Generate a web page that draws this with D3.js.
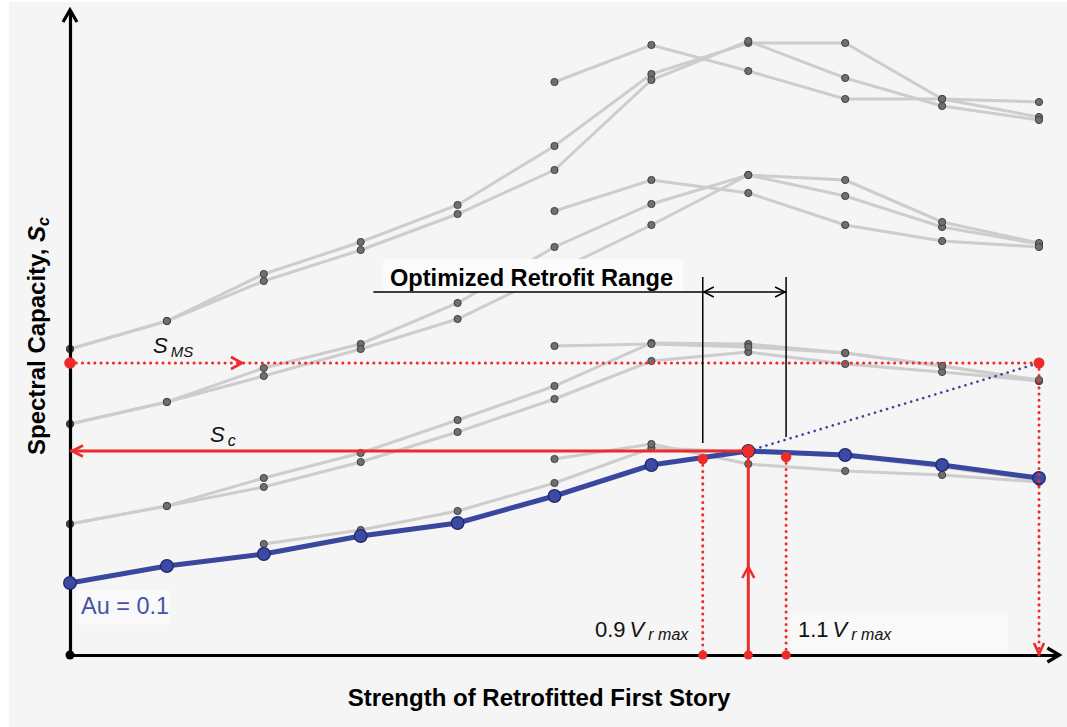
<!DOCTYPE html>
<html><head><meta charset="utf-8">
<script src="https://cdn.jsdelivr.net/npm/d3@7"></script>
<style>body{margin:0;background:#fff} svg{display:block}</style>
</head><body><svg id="c" width="1067" height="727"></svg>
<script>
// ---- data (x = column index of retrofit strength, y = spectral capacity, arbitrary units) ----
const columns = [0,1,2,3,4,5,6,7,8,9,10];
const blueSeries = [72, 89, 101, 119, 132, 159, 190, 204, 200, 190, 177];
const greyA1 = [306, 334, 381, 413, 450, 509, 581, 612, 612, 556, 538];
const greyA2 = [306, 334, 374, 405, 441, 485, 575, 614, 577, 549, 535];
const greyA3 = [null, null, null, null, null, 573, 610, 584, 556, 556, 553];
const greyB1 = [231, 253, 287, 311, 352, 408, 451, 480, 459, 428, 411];
const greyB2 = [231, 253, 279, 306, 336, 383, 430, 480, 475, 433, 412];
const greyB3 = [null, null, null, null, null, 444, 475, 462, 430, 414, 408];
const greyC1 = [131, 149, 177, 202, 235, 269, 312, 311, 302, 289, 274];
const greyC2 = [131, 149, 168, 193, 223, 256, 294, 303, 291, 283, 274];
const greyC3 = [null, null, null, null, null, 309, 311, 308, 302, 289, 275];
const greyD2 = [null, null, 111, 125, 144, 172, 207, 203, 199, 188, 175];
const greyD3 = [null, null, null, null, null, 196, 211, 191, 184, 180, 173];
const greySeries = [greyA1, greyA2, greyA3, greyB1, greyB2, greyB3, greyC1, greyC2, greyC3, greyD2, greyD3];

const smsLevel = 292;      // S_MS
const scLevel = 204;       // S_c (at Vr max)
const vrMax = 7;           // column of Vr max
const vrLow = 6.53;        // 0.9 Vr max
const vrHigh = 7.39;       // 1.1 Vr max
const vrLowCap = 196;      // capacity at 0.9 Vr max
const vrHighCap = 198;     // capacity at 1.1 Vr max
const rangeTop = 378, rangeBottomLow = 212, rangeBottomHigh = 218, rangeArrowLevel = 363;
const rangeUnderlineStart = 3.13;
const xAxisEnd = 10.19, yAxisEnd = 643;

// ---- scales ----
const x = d3.scaleLinear().domain([0, 10]).range([70, 1039]);
const y = d3.scaleLinear().domain([0, 640]).range([655, 15]);

const svg = d3.select('#c');
const FONT = "'Liberation Sans', Arial, Helvetica, sans-serif";
const RED = '#ee2b2b', BLUE = '#3a479e', GREYL = '#cdcdcd';

svg.append('rect').attr('x', 9).attr('y', 2).attr('width', 1058).attr('height', 725).attr('fill', '#f5f5f5');

// grey lines
const line = d3.line().defined(d => d[1] != null).x(d => x(d[0])).y(d => y(d[1]));
greySeries.forEach(s => {
  const pts = s.map((v, i) => [columns[i], v]);
  svg.append('path').attr('d', line(pts)).attr('fill', 'none').attr('stroke', GREYL).attr('stroke-width', 3);
});
greySeries.forEach(s => {
  s.forEach((v, i) => {
    if (v == null) return;
    svg.append('circle').attr('cx', x(columns[i])).attr('cy', y(v)).attr('r', 3.6)
      .attr('fill', i === 0 ? '#444' : '#6f6f6f').attr('stroke', '#404040').attr('stroke-width', 1);
  });
});

// axes
const xAxisScale = d3.scaleLinear().domain([0, xAxisEnd]).range([x(0), x(xAxisEnd)]);
const yAxisScale = d3.scaleLinear().domain([0, yAxisEnd]).range([y(0), y(yAxisEnd)]);
const gx = svg.append('g').attr('transform', `translate(0,${y(0)})`)
  .call(d3.axisBottom(xAxisScale).tickValues([]).tickSizeOuter(0));
const gy = svg.append('g').attr('transform', `translate(${x(0)},0)`)
  .call(d3.axisLeft(yAxisScale).tickValues([]).tickSizeOuter(0));
[gx, gy].forEach(g => g.select('.domain').attr('stroke', '#000').attr('stroke-width', 3.2));
function chevron(tx, ty, dir, len, half, color, w) {
  let p;
  if (dir === 'up') p = [[tx - half, ty + len], [tx, ty], [tx + half, ty + len]];
  if (dir === 'down') p = [[tx - half, ty - len], [tx, ty], [tx + half, ty - len]];
  if (dir === 'left') p = [[tx + len, ty - half], [tx, ty], [tx + len, ty + half]];
  if (dir === 'right') p = [[tx - len, ty - half], [tx, ty], [tx - len, ty + half]];
  svg.append('path').attr('d', d3.line()(p)).attr('fill', 'none').attr('stroke', color)
    .attr('stroke-width', w).attr('stroke-linejoin', 'miter').attr('stroke-linecap', 'butt');
}
chevron(x(0), y(yAxisEnd) - 2, 'up', 12, 7, '#000', 3.2);
chevron(x(xAxisEnd) + 2, y(0), 'right', 12, 7, '#000', 3.2);
svg.append('circle').attr('cx', x(0)).attr('cy', y(0)).attr('r', 4.5).attr('fill', '#000');

// blue line
const bpts = blueSeries.map((v, i) => [columns[i], v]);
svg.append('path').attr('d', line(bpts)).attr('fill', 'none').attr('stroke', BLUE).attr('stroke-width', 5);

// blue dotted line
svg.append('path').attr('d', line([[vrMax, scLevel], [10, smsLevel]])).attr('fill', 'none')
  .attr('stroke', BLUE).attr('stroke-width', 2.6).attr('stroke-dasharray', '0.1,6.2').attr('stroke-linecap', 'round');

bpts.forEach(p => {
  svg.append('circle').attr('cx', x(p[0])).attr('cy', y(p[1])).attr('r', 6.3)
    .attr('fill', '#3c4aa6').attr('stroke', '#1e2868').attr('stroke-width', 1.3);
});

// red dotted lines
const dotted = (pts) => svg.append('path').attr('d', line(pts)).attr('fill', 'none')
  .attr('stroke', RED).attr('stroke-width', 3).attr('stroke-dasharray', '0.1,6.1').attr('stroke-linecap', 'round');
dotted([[0, smsLevel], [10, smsLevel]]);
dotted([[10, smsLevel], [10, 0]]);
dotted([[vrLow, vrLowCap], [vrLow, 0]]);
dotted([[vrHigh, vrHighCap], [vrHigh, 0]]);
chevron(242, y(smsLevel), 'right', 11, 6, RED, 2.6);
chevron(x(10), y(0) - 1, 'down', 11, 5, RED, 2.6);

// red solid lines
svg.append('path').attr('d', line([[vrMax, scLevel], [0, scLevel]])).attr('fill', 'none').attr('stroke', RED).attr('stroke-width', 3);
svg.append('path').attr('d', line([[vrMax, 0], [vrMax, scLevel]])).attr('fill', 'none').attr('stroke', RED).attr('stroke-width', 3);
chevron(x(0) + 2, y(scLevel), 'left', 11, 5.5, RED, 2.6);
chevron(x(vrMax), 567, 'up', 11, 6, RED, 2.6);

// red dots
[[0, smsLevel, 5.8], [10, smsLevel, 5.5], [vrMax, scLevel, 6], [vrLow, vrLowCap, 5.2], [vrHigh, vrHighCap, 5.2],
 [vrLow, 0, 4.6], [vrMax, 0, 4.6], [vrHigh, 0, 4.6]].forEach(d => {
  svg.append('circle').attr('cx', x(d[0])).attr('cy', y(d[1])).attr('r', d[2]).attr('fill', RED);
});

// optimized range annotation
svg.append('rect').attr('x', 383).attr('y', 259).attr('width', 300).attr('height', 33).attr('fill', '#fbfbfb');
svg.append('line').attr('x1', x(rangeUnderlineStart)).attr('x2', x(vrLow)).attr('y1', y(rangeArrowLevel)).attr('y2', y(rangeArrowLevel))
  .attr('stroke', '#000').attr('stroke-width', 1.4);
svg.append('line').attr('x1', x(vrLow)).attr('x2', x(vrHigh)).attr('y1', y(rangeArrowLevel)).attr('y2', y(rangeArrowLevel))
  .attr('stroke', '#000').attr('stroke-width', 1.4);
svg.append('line').attr('x1', x(vrLow)).attr('x2', x(vrLow)).attr('y1', y(rangeTop)).attr('y2', y(rangeBottomLow))
  .attr('stroke', '#000').attr('stroke-width', 1.5);
svg.append('line').attr('x1', x(vrHigh)).attr('x2', x(vrHigh)).attr('y1', y(rangeTop)).attr('y2', y(rangeBottomHigh))
  .attr('stroke', '#000').attr('stroke-width', 1.5);
chevron(x(vrLow) + 1, y(rangeArrowLevel), 'left', 10, 5, '#000', 1.4);
chevron(x(vrHigh) - 1, y(rangeArrowLevel), 'right', 10, 5, '#000', 1.4);
svg.append('text').attr('x', 390).attr('y', 286).attr('font-family', FONT).attr('font-weight', 'bold')
  .attr('font-size', 23.6).attr('fill', '#000').text('Optimized Retrofit Range');

// label boxes
svg.append('rect').attr('x', 76).attr('y', 590).attr('width', 94).attr('height', 35).attr('fill', '#f9f9f9');
svg.append('rect').attr('x', 791).attr('y', 613).attr('width', 217).attr('height', 40).attr('fill', '#f9f9f9');

// texts
svg.append('text').attr('x', 81).attr('y', 614).attr('font-family', FONT).attr('font-size', 23.5)
  .attr('fill', '#4653a8').text('Au = 0.1');

function vrLabel(x0, num) {
  const t = svg.append('text').attr('x', x0).attr('y', 637).attr('font-family', FONT).attr('font-size', 22).attr('fill', '#111');
  t.append('tspan').text(num);
  t.append('tspan').attr('dx', 4).attr('font-style', 'italic').text('V');
  t.append('tspan').attr('dx', 4).attr('dy', 3).attr('font-style', 'italic').attr('font-size', 16).text('r max');
}
vrLabel(595, '0.9');
vrLabel(798, '1.1');

function subLabel(x0, yb, main, sub, subSize) {
  const t = svg.append('text').attr('x', x0).attr('y', yb).attr('font-family', FONT).attr('font-size', 22)
    .attr('font-style', 'italic').attr('fill', '#111');
  t.append('tspan').text(main);
  t.append('tspan').attr('dx', 3).attr('dy', 4).attr('font-size', subSize).text(sub);
}
subLabel(153, 353, 'S', 'MS', 15);
subLabel(210, 442, 'S', 'c', 16);

svg.append('text').attr('x', 539).attr('y', 706).attr('text-anchor', 'middle').attr('font-family', FONT)
  .attr('font-weight', 'bold').attr('font-size', 24).attr('fill', '#000').text('Strength of Retrofitted First Story');

const yl = svg.append('text').attr('transform', 'translate(45,455) rotate(-90)').attr('font-family', FONT)
  .attr('font-weight', 'bold').attr('font-size', 24).attr('fill', '#000');
yl.append('tspan').text('Spectral Capacity, ');
yl.append('tspan').attr('font-style', 'italic').text('S');
yl.append('tspan').attr('font-style', 'italic').attr('font-size', 16).attr('dy', 4).text('c');
</script></body></html>
